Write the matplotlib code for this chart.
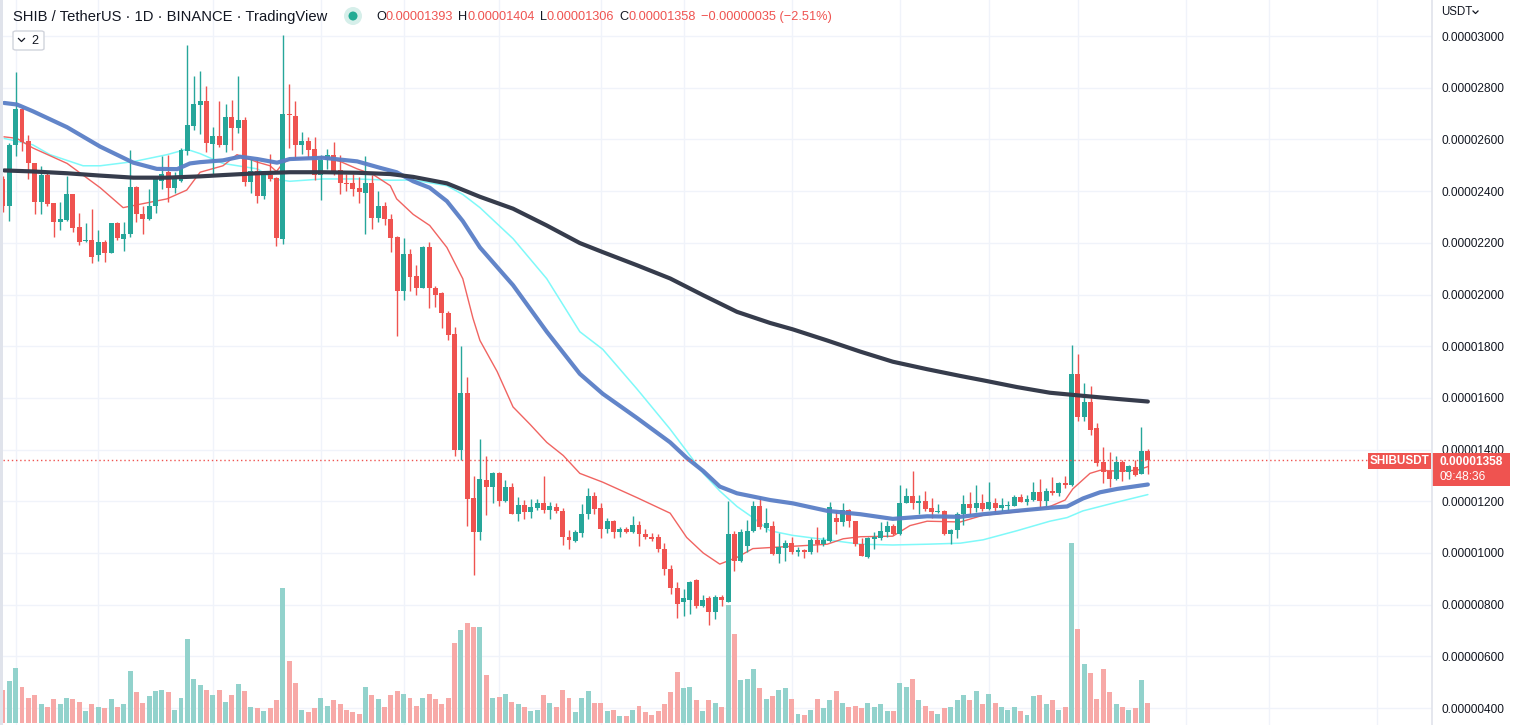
import matplotlib
matplotlib.use('Agg')
import matplotlib.pyplot as plt
import numpy as np
from matplotlib.patches import Rectangle, FancyBboxPatch, Circle
from matplotlib.lines import Line2D
from matplotlib.transforms import blended_transform_factory, IdentityTransform

# ---------------- data (prices in 1e-6 USDT) ----------------
opens = [24.47, 23.41, 25.79, 27.16, 25.92, 25.07, 23.58, 24.64, 23.53, 22.79,
         22.88, 23.87, 22.60, 22.07, 22.12, 21.51, 22.05, 21.61, 22.76, 22.14,
         22.33, 24.16, 23.13, 22.93, 23.42, 24.38, 24.73, 24.12, 24.38, 25.56,
         26.52, 27.33, 27.47, 25.82, 26.15, 25.79, 26.85, 26.44, 26.76, 24.35,
         24.79, 23.80, 24.62, 24.49, 22.14, 26.99, 26.92, 25.79, 25.92, 25.62,
         24.62, 25.20, 25.39, 24.83, 24.33, 24.30, 24.13, 23.92, 24.33, 22.96,
         23.44, 22.93, 22.21, 20.15, 21.56, 20.70, 20.27, 21.83, 20.27, 20.05,
         19.30, 18.46, 13.99, 16.18, 12.11, 10.80, 12.83, 12.57, 13.10, 12.00,
         12.57, 11.52, 11.85, 11.59, 11.76, 11.93, 11.68, 11.78, 11.63, 10.63,
         10.48, 10.77, 11.49, 12.21, 11.76, 10.91, 11.23, 10.80, 10.91, 10.80,
         11.08, 10.75, 10.60, 10.63, 10.14, 9.39, 8.63, 8.10, 8.20, 8.97,
         7.94, 8.24, 7.72, 8.29, 8.12, 10.72, 9.69, 10.29, 10.85, 11.83,
         10.97, 11.06, 9.98, 10.20, 10.38, 10.02, 10.12, 10.05, 10.50, 10.34,
         10.46, 11.34, 11.21, 11.66, 11.23, 10.34, 9.86, 10.53, 10.58, 10.80,
         11.04, 10.72, 11.95, 12.19, 11.92, 12.00, 11.75, 11.59, 11.63, 10.72,
         10.89, 11.50, 11.90, 11.76, 11.93, 11.69, 11.95, 11.76, 11.83, 11.83,
         12.16, 11.99, 12.06, 12.36, 12.02, 12.40, 12.31, 12.71, 12.62, 16.92,
         15.26, 15.84, 14.83, 13.51, 13.17, 12.88, 13.51, 13.15, 13.34, 13.06,
         13.93]
highs = [24.60, 25.85, 28.61, 27.20, 26.18, 25.10, 24.98, 24.76, 23.55, 23.56,
         24.60, 23.90, 23.15, 22.76, 23.30, 22.48, 22.12, 22.78, 22.81, 22.81,
         25.58, 24.20, 23.44, 24.08, 24.50, 25.36, 25.41, 24.73, 25.67, 29.66,
         28.44, 28.66, 28.06, 26.49, 27.50, 27.38, 27.53, 28.46, 26.85, 25.24,
         25.19, 24.64, 25.44, 24.55, 30.03, 28.15, 27.47, 26.27, 26.09, 26.09,
         25.38, 25.63, 25.89, 25.41, 24.67, 24.67, 24.55, 25.36, 24.64, 23.99,
         23.56, 23.13, 22.25, 22.19, 21.75, 21.13, 21.88, 22.02, 20.34, 20.10,
         19.38, 18.73, 18.01, 16.80, 12.98, 14.42, 13.75, 13.12, 13.12, 12.83,
         12.71, 12.17, 12.05, 12.10, 12.10, 12.98, 11.97, 11.95, 11.75, 10.89,
         10.89, 11.88, 12.52, 12.36, 11.92, 11.37, 11.28, 10.99, 10.99, 11.44,
         11.23, 10.91, 10.77, 10.72, 10.38, 9.55, 8.87, 8.60, 8.90, 9.00,
         8.37, 8.32, 8.36, 8.37, 12.00, 10.86, 10.94, 11.28, 12.00, 12.17,
         11.76, 11.23, 10.77, 10.51, 10.63, 10.24, 10.17, 10.58, 11.01, 10.63,
         11.99, 11.61, 11.92, 11.71, 11.25, 10.57, 10.60, 10.80, 11.20, 11.23,
         11.11, 12.62, 12.52, 13.17, 12.23, 12.40, 12.14, 11.88, 11.66, 10.94,
         11.59, 12.23, 12.35, 12.62, 12.30, 12.76, 12.12, 12.14, 12.00, 12.23,
         12.30, 12.23, 12.74, 12.86, 12.52, 12.94, 12.74, 12.98, 18.05, 17.71,
         16.59, 16.46, 15.03, 14.11, 13.90, 13.77, 13.60, 13.42, 13.60, 14.86,
         14.04]
lows = [23.20, 22.84, 25.36, 25.55, 24.47, 23.10, 23.13, 23.44, 22.23, 22.50,
        22.85, 22.40, 21.92, 22.04, 21.22, 21.30, 21.27, 21.59, 22.12, 21.68,
        22.24, 22.81, 22.33, 22.90, 23.15, 24.09, 23.56, 23.94, 24.36, 25.41,
        26.35, 26.22, 25.50, 24.60, 25.72, 25.50, 25.58, 26.23, 24.20, 23.92,
        23.54, 23.70, 24.38, 21.88, 21.95, 25.67, 25.24, 25.44, 25.29, 24.44,
        23.65, 24.86, 24.62, 23.87, 24.01, 23.80, 23.53, 22.33, 22.55, 22.79,
        22.67, 21.64, 18.39, 19.79, 20.15, 19.97, 20.25, 19.47, 19.50, 18.71,
        18.25, 13.77, 13.60, 11.06, 9.14, 10.51, 11.46, 11.95, 11.80, 11.98,
        11.49, 11.25, 11.32, 11.37, 11.66, 11.54, 11.30, 11.54, 10.31, 10.17,
        10.43, 10.60, 11.32, 11.50, 10.57, 10.77, 10.57, 10.60, 10.77, 10.79,
        10.26, 10.55, 10.46, 10.03, 9.14, 8.42, 7.47, 7.57, 7.64, 7.86,
        7.92, 7.21, 7.43, 7.94, 8.10, 9.32, 9.65, 10.05, 10.80, 10.94,
        10.80, 9.92, 9.61, 9.69, 9.95, 9.90, 9.79, 9.98, 10.05, 10.29,
        10.44, 10.74, 11.06, 10.99, 10.26, 9.88, 9.79, 10.17, 10.51, 10.60,
        10.69, 10.70, 11.93, 11.71, 11.50, 11.64, 11.37, 11.54, 10.70, 10.34,
        10.57, 11.08, 11.49, 11.59, 11.63, 11.68, 11.54, 11.63, 11.68, 11.81,
        11.97, 11.85, 12.00, 11.69, 11.78, 12.23, 12.19, 12.52, 12.60, 15.09,
        15.09, 14.57, 13.37, 12.71, 12.57, 12.83, 12.79, 12.88, 12.98, 13.06,
        13.06]
closes = [23.41, 25.79, 27.16, 25.89, 25.07, 23.58, 24.64, 23.49, 22.81, 22.91,
          23.87, 22.58, 22.04, 22.12, 21.47, 22.02, 21.61, 22.76, 22.19, 22.33,
          24.16, 23.12, 22.93, 23.44, 24.47, 24.67, 24.12, 24.47, 25.58, 26.56,
          27.38, 27.47, 25.87, 26.15, 25.80, 26.85, 26.44, 26.75, 24.35, 24.79,
          23.80, 24.62, 24.47, 22.19, 27.00, 26.95, 25.79, 25.92, 25.58, 24.62,
          25.20, 25.39, 24.69, 24.31, 24.28, 24.08, 23.97, 24.33, 22.96, 23.44,
          22.93, 22.19, 20.12, 21.56, 20.67, 20.27, 21.83, 20.24, 20.00, 19.30,
          18.42, 13.99, 16.18, 12.07, 10.80, 12.86, 12.57, 13.10, 12.00, 12.57,
          11.52, 11.85, 11.59, 11.78, 11.93, 11.68, 11.80, 11.61, 10.60, 10.50,
          10.80, 11.50, 12.21, 11.71, 10.91, 11.23, 10.80, 10.91, 10.80, 11.08,
          10.75, 10.60, 10.55, 10.14, 9.37, 8.63, 8.03, 8.24, 8.87, 7.94,
          8.18, 7.72, 8.29, 8.17, 10.72, 9.69, 10.80, 10.85, 11.83, 10.99,
          11.15, 9.98, 10.24, 10.38, 10.02, 10.12, 10.02, 10.50, 10.34, 10.50,
          11.78, 11.18, 11.66, 11.23, 10.33, 9.90, 10.58, 10.63, 10.84, 11.04,
          10.72, 11.95, 12.19, 11.92, 12.00, 11.71, 11.59, 11.63, 10.72, 10.89,
          11.52, 11.90, 11.76, 11.93, 11.69, 11.97, 11.76, 11.85, 11.86, 12.16,
          11.99, 12.09, 12.36, 12.00, 12.40, 12.31, 12.72, 12.62, 16.92, 15.26,
          15.84, 14.76, 13.49, 13.15, 12.88, 13.51, 13.15, 13.37, 13.03, 13.96,
          13.58]
volumes = [75, 95, 123, 82, 57, 62, 42, 37, 53, 42, 57, 55, 48, 27, 42, 37, 33, 53, 35, 42,
           118, 70, 46, 60, 73, 75, 69, 30, 57, 188, 98, 85, 75, 64, 75, 48, 64, 87, 71, 37,
           33, 26, 33, 51, 303, 139, 89, 30, 24, 33, 57, 39, 51, 42, 30, 24, 21, 80, 62, 55,
           37, 64, 71, 66, 56, 39, 57, 66, 55, 42, 57, 179, 209, 224, 215, 215, 109, 57, 59, 66,
           48, 43, 35, 27, 30, 62, 44, 37, 75, 57, 24, 57, 73, 46, 46, 27, 30, 15, 15, 30,
           39, 24, 19, 27, 42, 69, 114, 78, 82, 51, 28, 51, 46, 35, 266, 200, 96, 100, 121, 78,
           53, 60, 75, 78, 55, 20, 18, 30, 55, 33, 51, 71, 46, 37, 39, 33, 46, 35, 42, 28,
           26, 89, 82, 98, 51, 39, 28, 20, 33, 35, 51, 64, 51, 73, 42, 66, 44, 35, 30, 35,
           26, 19, 60, 64, 42, 51, 30, 37, 405, 211, 132, 112, 53, 121, 69, 42, 37, 30, 33, 96,
           46]

# moving averages: (bar position, value)
ma_dark_x = [0.2, 4.7, 10.1, 15.3, 20.5, 25.8, 31.0, 34.6, 40.0, 45.1, 50.3, 55.7, 60.9, 64.5,
             69.8, 75.0, 80.2, 85.5, 90.7, 94.3, 99.7, 104.9, 110.1, 115.4, 120.6, 124.2, 129.6,
             134.8, 139.9, 145.3, 150.5, 154.1, 159.4, 164.6, 169.8, 175.2, 180.0]
ma_dark_y = [24.80, 24.76, 24.69, 24.60, 24.52, 24.52, 24.57, 24.62, 24.69, 24.73, 24.73, 24.71,
             24.66, 24.55, 24.30, 23.78, 23.32, 22.67, 21.99, 21.64, 21.13, 20.62, 19.97, 19.33,
             18.90, 18.65, 18.22, 17.79, 17.40, 17.11, 16.85, 16.68, 16.42, 16.20, 16.08, 15.96,
             15.86]
ma_blue_x = [0.2, 2.2, 4.7, 10.1, 15.3, 20.5, 24.2, 27.4, 29.4, 31.0, 34.6, 37.3, 40.0, 43.1,
             45.1, 50.3, 55.7, 59.3, 61.9, 64.5, 67.1, 69.8, 72.3, 75.0, 80.2, 85.5, 90.7, 94.3,
             99.7, 104.9, 107.5, 110.1, 112.7, 115.4, 120.6, 124.2, 129.6, 134.8, 139.9, 145.3,
             150.5, 154.1, 159.4, 164.6, 167.3, 169.8, 172.5, 175.2, 180.0]
ma_blue_y = [27.41, 27.35, 27.09, 26.47, 25.72, 25.10, 24.86, 24.85, 25.07, 25.12, 25.19, 25.33,
             25.24, 25.10, 25.24, 25.29, 25.15, 24.90, 24.73, 24.38, 24.13, 23.61, 22.84, 21.82,
             20.36, 18.56, 16.93, 16.16, 15.22, 14.28, 13.68, 13.17, 12.57, 12.31, 12.05, 11.92,
             11.63, 11.50, 11.32, 11.42, 11.40, 11.50, 11.63, 11.75, 11.80, 12.11, 12.35, 12.48,
             12.65]
ma_cyan_x = [0.2, 4.7, 7.4, 12.6, 15.3, 20.5, 25.8, 28.9, 31.0, 34.6, 40.0, 42.5, 45.1, 50.3,
             55.7, 60.9, 64.5, 69.8, 72.3, 75.0, 80.2, 85.5, 90.7, 94.3, 99.7, 104.9, 107.5,
             110.1, 112.7, 115.4, 117.9, 120.6, 124.2, 129.6, 134.8, 139.9, 145.3, 150.5, 154.1,
             159.4, 164.6, 167.3, 169.8, 175.2, 180.0]
ma_cyan_y = [26.04, 25.79, 25.41, 24.98, 24.98, 25.14, 25.41, 25.62, 25.45, 25.07, 24.86, 24.47,
             24.38, 24.47, 24.47, 24.42, 24.43, 24.21, 23.87, 23.36, 22.16, 20.61, 18.56, 17.88,
             16.34, 14.79, 13.94, 13.08, 12.40, 11.80, 11.37, 10.86, 10.68, 10.51, 10.34, 10.31,
             10.34, 10.38, 10.51, 10.86, 11.23, 11.37, 11.63, 11.97, 12.26]
ma_red_x = [0.2, 2.2, 4.7, 10.1, 15.3, 18.9, 20.5, 25.8, 28.9, 31.0, 34.6, 36.8, 40.0, 42.0,
            43.0, 44.0, 45.1, 50.3, 53.0, 55.7, 58.2, 60.9, 61.9, 64.5, 67.1, 69.8, 72.3, 73.9,
            75.0, 77.7, 80.2, 82.9, 85.5, 88.1, 90.7, 94.3, 99.7, 104.9, 107.5, 110.1, 112.7,
            115.4, 117.9, 120.6, 124.2, 129.6, 132.1, 134.8, 139.9, 142.6, 145.3, 150.5, 154.1,
            159.4, 164.6, 167.0, 168.2, 170.9, 172.5, 175.2, 178.3, 180.0]
ma_red_y = [26.10, 26.04, 25.67, 25.07, 24.13, 23.36, 23.44, 23.70, 24.04, 24.73, 24.98, 25.41,
            25.12, 24.98, 24.76, 25.07, 25.24, 25.32, 25.15, 24.86, 24.64, 24.21, 23.70, 23.10,
            22.67, 21.82, 20.61, 19.08, 18.22, 17.02, 15.65, 14.97, 14.28, 13.77, 13.08, 12.74,
            12.14, 11.54, 10.60, 10.00, 9.57, 9.83, 10.17, 10.21, 10.26, 10.34, 10.55, 10.63,
            10.65, 11.06, 11.23, 11.20, 11.46, 11.59, 11.80, 12.05, 12.48, 13.08, 13.20, 13.17,
            13.20, 13.34]

price_ticks = [4, 6, 8, 10, 12, 14, 16, 18, 20, 22, 24, 26, 28, 30]
time_grid = [2, 15, 33, 50, 63, 78, 94, 107, 124, 141, 155, 169, 186, 199, 216]
last_price = 13.58
header_main = "SHIB / TetherUS · 1D · BINANCE · TradingView"
ohlc_parts = [("O", "0.00001393"), ("H", "0.00001404"), ("L", "0.00001306"), ("C", "0.00001358")]
change_text = "−0.00000035 (−2.51%)"

# ---------------- style ----------------
UP, DN = '#26a69a', '#ef5350'
VUP, VDN = '#92d2cc', '#f7a9a7'
FONT = ['Liberation Sans', 'DejaVu Sans']
plt.rcParams['font.family'] = FONT

W, H = 1515, 725
fig = plt.figure(figsize=(W / 100, H / 100), dpi=100)
fig.patch.set_facecolor('white')

X0, X1 = 3, 1432
rect = [X0 / W, 0, (X1 - X0) / W, 1]
axv = fig.add_axes(rect)
ax = fig.add_axes(rect)
ax.patch.set_visible(False)

n = len(opens)
idx = np.arange(n)
xl = (0.016, 224.67)
for a in (axv, ax):
    a.set_xlim(*xl)
    for s in a.spines.values():
        s.set_visible(False)
    a.set_xticks([])
ax.set_ylim(3.346, 31.393)
axv.set_ylim(-4.5, 1626.75)
axv.set_yticks([])

# grid (on the back axes)
gridc = '#f0f3fa'
htrans = blended_transform_factory(axv.transAxes, ax.transData)
for p in price_ticks:
    axv.add_line(Line2D([0, 1], [p, p], transform=htrans, color=gridc, lw=1, zorder=0))
for t in time_grid:
    axv.axvline(t, color=gridc, lw=1, zorder=0)

# volume
o = np.array(opens); c = np.array(closes); h = np.array(highs); l = np.array(lows)
up = c >= o
axv.bar(idx, volumes, width=0.78, color=[VUP if u else VDN for u in up], zorder=1, linewidth=0)

# moving averages
ax.plot(ma_cyan_x, ma_cyan_y, color='#7ff9f9', lw=1.1, zorder=3, solid_capstyle='round')
ax.plot(ma_red_x, ma_red_y, color='#ef5350', lw=1.0, zorder=3, alpha=0.9)

# candles
cols = [UP if u else DN for u in up]
ax.vlines(idx, l, h, colors=cols, lw=1.0, zorder=4)
bot = np.minimum(o, c)
hgt = np.maximum(np.abs(c - o), 0.045)
ax.bar(idx, hgt, bottom=bot, width=0.78, color=cols, zorder=5, linewidth=0)

ax.plot(ma_blue_x, ma_blue_y, color='#5a7ec6', lw=3.0, zorder=6, alpha=0.95, solid_capstyle='round')
ax.plot(ma_dark_x, ma_dark_y, color='#363c4c', lw=3.0, zorder=6, solid_capstyle='round')

# last price dotted line
px_lab_left = 1368
xr = (px_lab_left - X0) / (X1 - X0)
ax.plot([0, xr], [last_price, last_price], transform=blended_transform_factory(ax.transAxes, ax.transData),
        color=DN, lw=1, ls=(0, (1, 2)), zorder=7)

# right price scale
ax.yaxis.tick_right()
ax.set_yticks(price_ticks)
ax.set_yticklabels([f"{v * 1e-6:.8f}" for v in price_ticks])
ax.tick_params(axis='y', length=0, pad=6.5, labelsize=8.6, labelcolor='#131722')
ax.tick_params(axis='x', length=0)

# border between chart and scale, left gray strip
fig.add_artist(Line2D([X1 / W, X1 / W], [0, 1], transform=fig.transFigure, color='#e0e3eb', lw=1.2))
fig.add_artist(Rectangle((0, 0), 3 / W, 1, transform=fig.transFigure, color='#e0e3eb', lw=0))


def fy(y):
    return 1 - y / H


# price labels
fig.add_artist(Rectangle((X1 / W, fy(486)), 78 / W, 33 / H, transform=fig.transFigure, color=DN, lw=0))
fig.text(1440 / W, fy(462), "0.00001358", color='white', fontsize=8.6, fontweight='bold', va='center', ha='left')
fig.text(1440 / W, fy(477), "09:48:36", color='white', fontsize=8.6, va='center', ha='left')
fig.add_artist(Rectangle((1368 / W, fy(469)), 63 / W, 16 / H, transform=fig.transFigure, color=DN, lw=0))
fig.text(1399.5 / W, fy(461), "SHIBUSDT", color='white', fontsize=8.4, fontweight='bold', va='center', ha='center')

# USDT currency label
fig.text(1441 / W, fy(12), "USDT", color='#131722', fontsize=8.3, va='center', ha='left')
fig.add_artist(Line2D([1473 / W, 1475.5 / W, 1478 / W], [fy(11), fy(13.5), fy(11)], transform=fig.transFigure,
                      color='#131722', lw=0.9))

# header
fig.canvas.draw()
r = fig.canvas.get_renderer()


def put(x, y, s, **kw):
    t = fig.text(x / W, fy(y), s, va='center', ha='left', **kw)
    bb = t.get_window_extent(renderer=r)
    return x + bb.width


put(13, 17, header_main, color='#131722', fontsize=10.6)
fig.add_artist(Circle((353, H - 16), 9, transform=IdentityTransform(), color='#d6efea', lw=0))
fig.add_artist(Circle((353, H - 16), 4.5, transform=IdentityTransform(), color='#22ab94', lw=0))
x = 376
for lab, val in ohlc_parts:
    x = put(x, 17, lab, color='#131722', fontsize=9.2)
    x = put(x, 17, val, color=DN, fontsize=9.2)
    x += 5
put(x, 17, change_text, color=DN, fontsize=9.2)

# collapse box
fig.add_artist(FancyBboxPatch((13 / W, fy(50)), 31 / W, 19 / H, boxstyle='round,pad=0,rounding_size=0.002',
                              transform=fig.transFigure, fc='white', ec='#d1d4dc', lw=1))
fig.add_artist(Line2D([18.5 / W, 21.5 / W, 24.5 / W], [fy(38.5), fy(41.5), fy(38.5)], transform=fig.transFigure,
                      color='#131722', lw=0.9))
fig.text(31 / W, fy(40.5), "2", color='#131722', fontsize=9.2, va='center', ha='left')

fig.savefig('out.png', dpi=100, facecolor='white')
